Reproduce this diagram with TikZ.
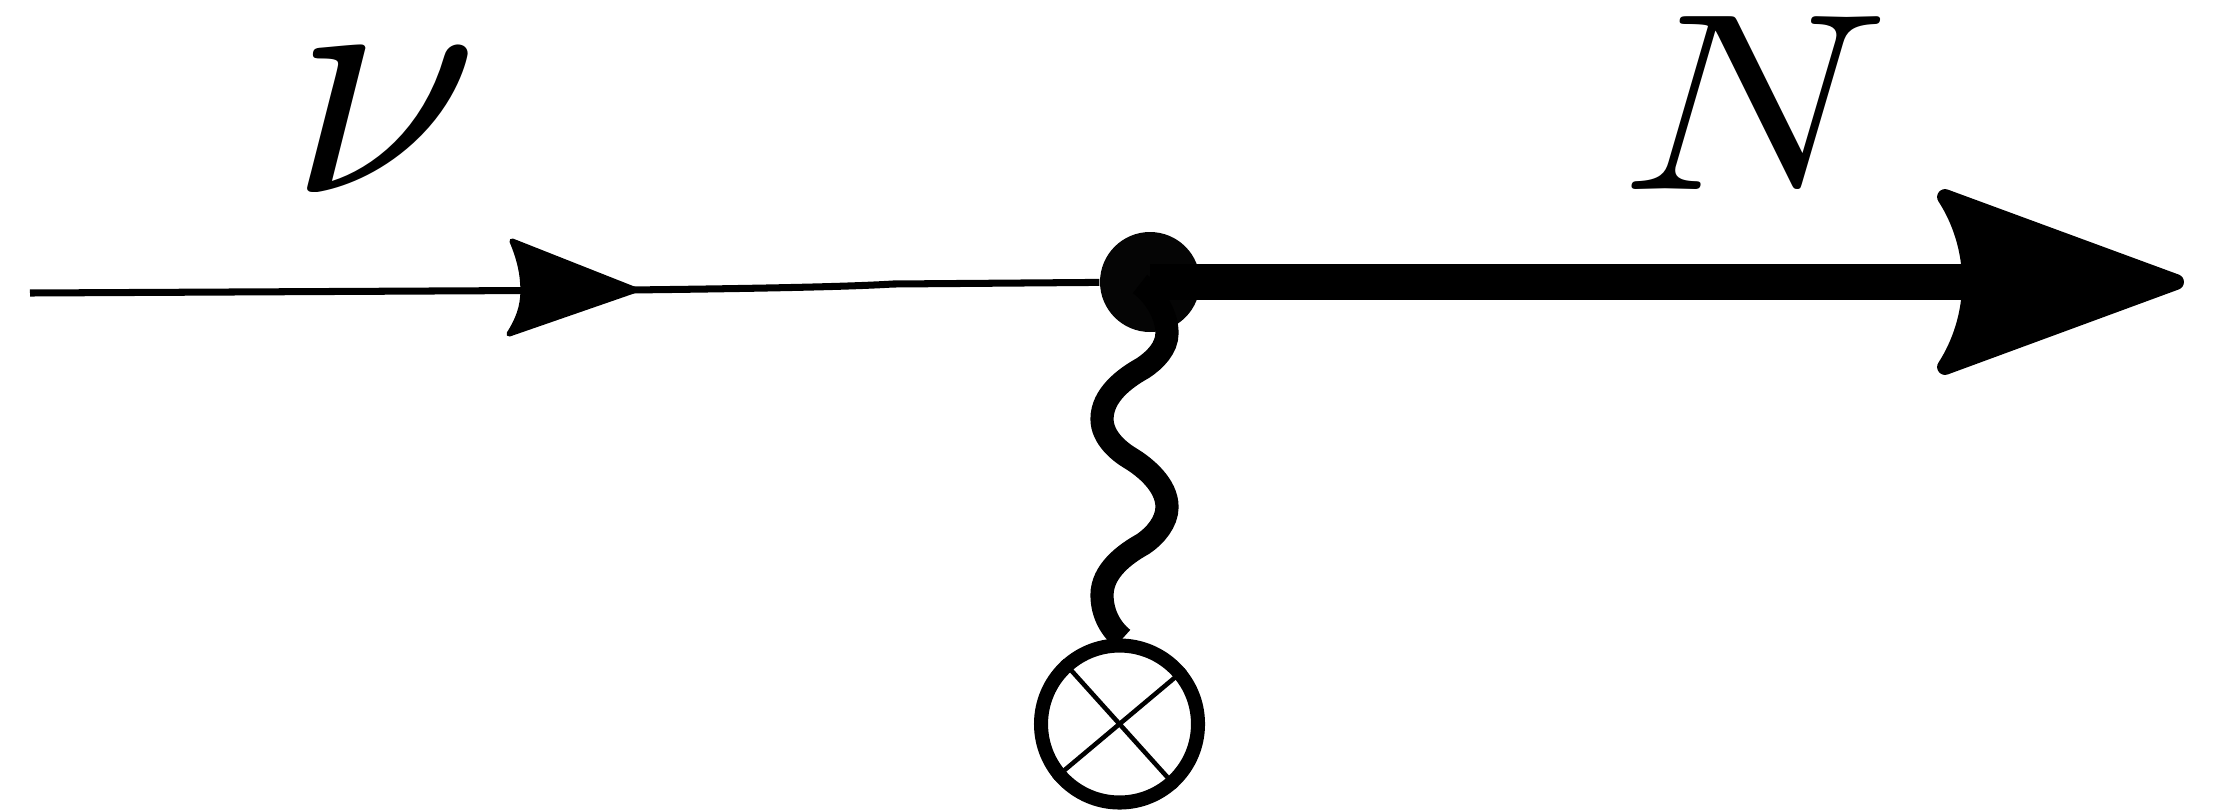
\documentclass[tikz,border=0pt]{standalone}
\usepackage{graphicx}
\tikzset{
    fermion/.style={line width=2pt, black},
    heavy/.style={line width=10.2pt, black},
    boson/.style={line width=6.6pt, black},
    crossline/.style={line width=1.3pt, black},
    smallhead/.style={fill=black, draw=black, line width=1.5pt, line join=round},
    bighead/.style={fill=black, draw=black, line width=4.5pt, line join=round},
}
\begin{document}
\begin{tikzpicture}
    \useasboundingbox (0,0) rectangle (22.18,8.10);

    \coordinate (start) at (0.30,5.17);
    \coordinate (bend) at (8.93,5.26);
    \coordinate (end) at (19.75,5.28);
    \coordinate (wigglestart) at (11.40,5.26);
    \node[circle, fill=black!98, inner sep=0pt, minimum size=1.00cm] (vertex) at (11.50,5.28) {};
    \node[circle, draw=black, line width=4pt, fill=white, inner sep=0pt, minimum size=1.57cm] (insertion) at (11.195,0.86) {};

    % Incoming line
    \draw[fermion] (start) -- (6.30,5.20) .. controls (8.0,5.22) and (8.6,5.24) .. (bend) -- (vertex);
    \draw[smallhead] (5.12,5.69) .. controls (5.20,5.50) and (5.23,5.35) .. (5.23,5.19)
        .. controls (5.23,5.03) and (5.18,4.90) .. (5.09,4.76) -- (6.36,5.20) -- cycle;

    % Outgoing line
    \draw[heavy] (vertex.center) -- (end);
    \draw[bighead] (19.45,6.13) .. controls (19.60,5.90) and (19.70,5.60) .. (19.70,5.28)
        .. controls (19.70,4.96) and (19.60,4.66) .. (19.45,4.43) -- (21.76,5.28) -- cycle;

    % Cross
    \draw[crossline] (insertion.132) -- (insertion.-48);
    \draw[crossline] (insertion.40) -- (insertion.220);

    % Wiggle
    \draw[boson] (wigglestart) .. controls (11.55,5.15) and (11.67,4.95) .. (11.67,4.77)
        .. controls (11.67,4.62) and (11.55,4.50) .. (11.43,4.42)
        .. controls (11.25,4.32) and (11.02,4.15) .. (11.02,3.91)
        .. controls (11.02,3.72) and (11.20,3.58) .. (11.30,3.52)
        .. controls (11.45,3.43) and (11.67,3.25) .. (11.67,3.03)
        .. controls (11.67,2.88) and (11.55,2.74) .. (11.43,2.66)
        .. controls (11.25,2.56) and (11.02,2.39) .. (11.02,2.15)
        .. controls (11.02,1.95) and (11.12,1.80) .. (insertion.88);

    \node (nu) at (3.85,6.89) {\scalebox{9.7}[9.5]{$\nu$}};
    \node (heavyN) at (17.55,7.07) {\scalebox{8.4}[7.2]{$N$}};
\end{tikzpicture}
\end{document}
